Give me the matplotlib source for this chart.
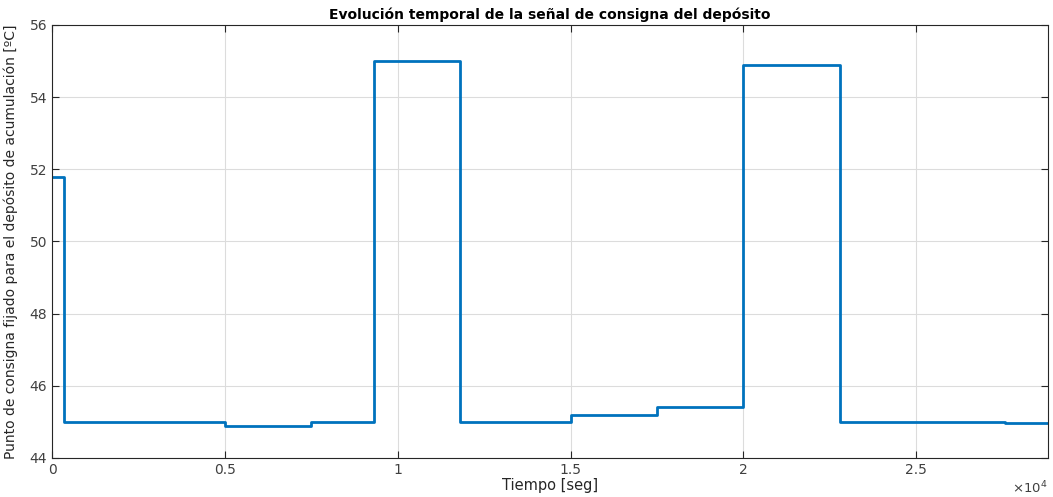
import matplotlib.pyplot as plt
import numpy as np

# Instantes de cambio (s) y consigna (ºC) en cada tramo
t_cambio = [0, 360, 5000, 7500, 9300, 11800, 15000, 17500, 20000, 22800, 27550, 28800]
consigna = [51.8, 45.0, 44.9, 45.0, 55.0, 45.0, 45.2, 45.4, 54.9, 45.0, 44.98, 44.98]

xticks = [0, 5000, 10000, 15000, 20000, 25000]
xtick_labels = ['0', '0.5', '1', '1.5', '2', '2.5']
yticks = [44, 46, 48, 50, 52, 54, 56]

fig = plt.figure(figsize=(10.53, 4.97), dpi=100)
ax = fig.add_axes([0.0494, 0.0785, 0.9456, 0.8712])

ax.step(t_cambio, consigna, where='post', color='#0072BD', linewidth=2)

ax.set_xlim(0, 28800)
ax.set_ylim(44, 56)
ax.set_xticks(xticks)
ax.set_xticklabels(xtick_labels)
ax.set_yticks(yticks)
ax.grid(True, color='#dcdcdc', linewidth=0.8)
ax.set_axisbelow(True)
ax.tick_params(direction='in', top=True, right=True, colors='#262626',
               labelcolor='#404040', labelsize=10, length=5, width=0.8)
for s in ax.spines.values():
    s.set_color('#262626')
    s.set_linewidth(0.8)

ax.set_title('Evolución temporal de la señal de consigna del depósito',
             fontsize=10, fontweight='bold', pad=4)
ax.set_xlabel('Tiempo [seg]', fontsize=10.5, color='#262626', labelpad=1)
ax.set_ylabel('Punto de consigna fijado para el depósito de acumulación [ºC]',
              fontsize=10, color='#262626', labelpad=8)
ax.text(1.0, -0.05, r'$\times10^4$', transform=ax.transAxes, ha='right', va='top',
        fontsize=9.5, color='#404040')

plt.savefig('out.png', dpi=100)
